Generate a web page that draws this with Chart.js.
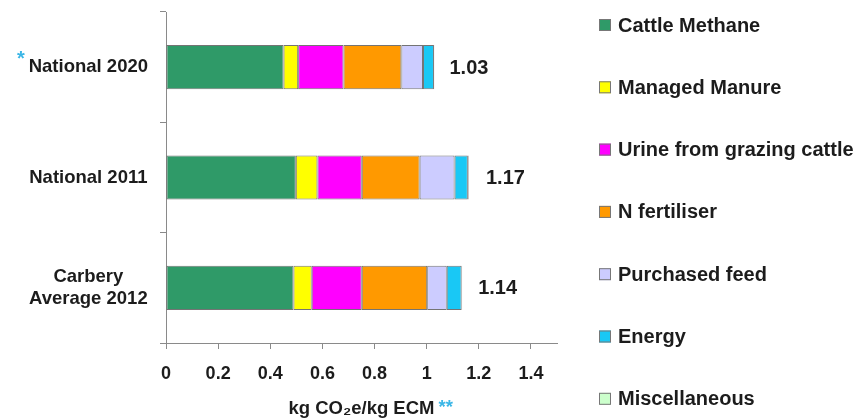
<!DOCTYPE html>
<html lang="en">
<head>
    <meta charset="UTF-8">
    <title>Dairy carbon footprint</title>
    <style>
        html, body { margin: 0; padding: 0; background: #fff; }
        #wrap { width: 861px; height: 418px; }
    </style>
</head>
<body>
    <div id="wrap">
        <canvas id="myChart" width="861" height="418"></canvas>
    </div>

    <script src="https://cdn.jsdelivr.net/npm/chart.js"></script>

    <script>
        // Categories (top to bottom) and the printed totals
        const categories = ['National 2020', 'National 2011', ['Carbery', 'Average 2012']];
        const totals = [1.03, 1.17, 1.14];

        // Series values, kg CO2e/kg ECM
        const cattleMethane = [0.451, 0.498, 0.489];
        const managedManure = [0.056, 0.083, 0.070];
        const urineGrazing  = [0.174, 0.170, 0.192];
        const nFertiliser   = [0.222, 0.222, 0.251];
        const purchasedFeed = [0.083, 0.134, 0.075];
        const energy        = [0.042, 0.051, 0.057];
        const miscellaneous = [0.001, 0.003, 0.002];

        const xTicks = [0, 0.2, 0.4, 0.6, 0.8, 1, 1.2, 1.4];

        const seriesNames = ['Cattle Methane', 'Managed Manure', 'Urine from grazing cattle',
            'N fertiliser', 'Purchased feed', 'Energy', 'Miscellaneous'];
        const seriesData = [cattleMethane, managedManure, urineGrazing, nFertiliser,
            purchasedFeed, energy, miscellaneous];
        const seriesColors = ['#2f9a68', '#ffff00', '#ff00ff', '#ff9900', '#ccccff', '#19c8f5', '#ccffcc'];

        const starBlue = '#3bb6e6';
        const textColor = '#1c1c1c';

        Chart.defaults.font.family = 'Arial, "Liberation Sans", sans-serif';
        Chart.defaults.font.weight = 'bold';
        Chart.defaults.color = textColor;

        // total value to the right of each bar
        const totalLabels = {
            id: 'totalLabels',
            afterDatasetsDraw(chart) {
                const {ctx, scales: {x, y}} = chart;
                ctx.save();
                ctx.font = 'bold 20px Arial, "Liberation Sans", sans-serif';
                ctx.fillStyle = textColor;
                ctx.textAlign = 'left';
                ctx.textBaseline = 'middle';
                totals.forEach((t, i) => {
                    ctx.fillText(t.toFixed(2), x.getPixelForValue(t) + 15, y.getPixelForValue(i) + 1);
                });
                ctx.restore();
            }
        };

        // blue asterisks on the first category and the axis title
        const asterisks = {
            id: 'asterisks',
            afterDraw(chart) {
                const {ctx, scales: {x, y}} = chart;
                ctx.save();
                ctx.fillStyle = starBlue;
                ctx.textBaseline = 'middle';

                // "*" before National 2020
                const item = y.getLabelItems()[0];
                ctx.font = 'bold 18.5px Arial, "Liberation Sans", sans-serif';
                const w = ctx.measureText('National 2020').width;
                const [lx, ly] = item.options.translation;
                ctx.font = 'bold 20px Arial, "Liberation Sans", sans-serif';
                ctx.textAlign = 'right';
                ctx.fillText('*', lx - w / 2 - 4, ly - 8);

                // "**" after the x title
                ctx.font = 'bold 18.5px Arial, "Liberation Sans", sans-serif';
                const tw = ctx.measureText(x.options.title.text).width;
                const cx = (x.left + x.right) / 2;
                ctx.textAlign = 'left';
                ctx.fillText('**', cx + tw / 2 + 4, 408);
                ctx.restore();
            }
        };

        // legend down the right side
        const sideLegend = {
            id: 'sideLegend',
            afterDraw(chart) {
                const {ctx} = chart;
                ctx.save();
                ctx.font = 'bold 20px Arial, "Liberation Sans", sans-serif';
                ctx.textBaseline = 'middle';
                ctx.textAlign = 'left';
                chart.data.datasets.forEach((ds, i) => {
                    const cy = 25 + i * 62.3;
                    ctx.fillStyle = ds.backgroundColor;
                    ctx.fillRect(599, cy - 6, 12, 12);
                    ctx.strokeStyle = '#777';
                    ctx.lineWidth = 1;
                    ctx.strokeRect(599.5, cy - 5.5, 11, 11);
                    ctx.fillStyle = textColor;
                    ctx.fillText(ds.label, 618, cy + 1);
                });
                ctx.restore();
            }
        };

        const ctx = document.getElementById('myChart');

        new Chart(ctx, {
            type: 'bar',
            data: {
                labels: categories,
                datasets: seriesNames.map((name, i) => ({
                    label: name,
                    data: seriesData[i],
                    backgroundColor: seriesColors[i],
                    borderColor: 'rgba(70,70,70,0.75)',
                    borderWidth: 1,
                    borderSkipped: false,
                    barPercentage: 0.4,
                    categoryPercentage: 1
                }))
            },
            options: {
                indexAxis: 'y',
                responsive: false,
                animation: false,
                layout: { padding: { top: 12, right: 304, bottom: 0, left: 0 } },
                plugins: {
                    legend: { display: false },
                    tooltip: { enabled: false }
                },
                scales: {
                    x: {
                        stacked: true,
                        min: 0,
                        max: 1.5,
                        afterBuildTicks(scale) {
                            scale.ticks = xTicks.map(v => ({ value: v }));
                        },
                        afterFit(scale) { scale.height = 75; },
                        grid: { drawOnChartArea: false, tickLength: 6, color: '#8a8a8a' },
                        border: { color: '#8a8a8a' },
                        ticks: {
                            font: { size: 18, weight: 'bold' },
                            padding: 14,
                            maxRotation: 0,
                            autoSkip: false,
                            callback: v => String(Math.round(v * 10) / 10)
                        },
                        title: {
                            display: true,
                            text: 'kg CO\u2082e/kg ECM',
                            font: { size: 18.5, weight: 'bold', lineHeight: 1 },
                            padding: { top: 0, bottom: 0 }
                        }
                    },
                    y: {
                        stacked: true,
                        afterFit(scale) {
                            scale.width = 166;
                            scale.paddingTop = 0;
                            scale.paddingBottom = 0;
                        },
                        grid: { drawOnChartArea: false, tickLength: 6, color: '#8a8a8a' },
                        border: { color: '#8a8a8a' },
                        ticks: {
                            font: { size: 18.5, weight: 'bold', lineHeight: 1.15 },
                            padding: 12,
                            crossAlign: 'center'
                        }
                    }
                }
            },
            plugins: [totalLabels, asterisks, sideLegend]
        });
    </script>
</body>
</html>
